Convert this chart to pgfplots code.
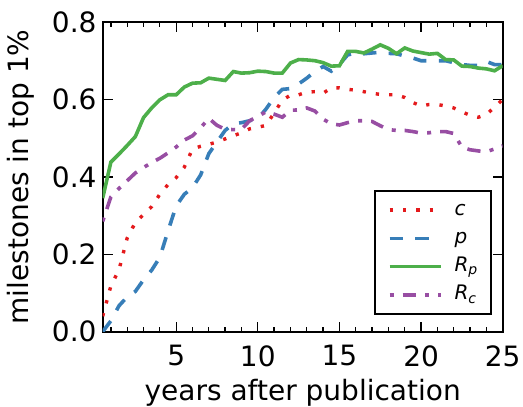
\documentclass[border=0pt]{standalone}
\usepackage{pgfplots}
\pgfplotsset{compat=1.18}
\usepackage{pgfplotstable}
\usepackage{fontspec}
\setmainfont{DejaVu Sans}
\definecolor{cred}{HTML}{E41A1C}
\definecolor{cblue}{HTML}{377EB8}
\definecolor{cgreen}{HTML}{4DAF4A}
\definecolor{cpurple}{HTML}{984EA3}
\pgfplotstableread{
x    c      p      Rp     Rc
0.5  0.040  0.000  0.345  0.285
1.0  0.118  0.028  0.438  0.348
1.5  0.160  0.067  0.459  0.370
2.0  0.242  0.090  0.481  0.390
2.5  0.282  0.104  0.504  0.410
3.0  0.303  0.134  0.553  0.424
3.5  0.323  0.159  0.578  0.437
4.0  0.355  0.192  0.599  0.448
4.5  0.380  0.260  0.612  0.462
5.0  0.398  0.325  0.612  0.477
5.5  0.425  0.355  0.632  0.495
6.0  0.472  0.372  0.642  0.506
6.5  0.479  0.405  0.643  0.527
7.0  0.484  0.460  0.655  0.551
7.5  0.490  0.490  0.652  0.533
8.0  0.498  0.520  0.649  0.523
8.5  0.506  0.537  0.672  0.522
9.0  0.514  0.540  0.668  0.523
9.5  0.524  0.545  0.669  0.545
10.0 0.528  0.550  0.673  0.556
10.5 0.533  0.575  0.672  0.568
11.0 0.565  0.605  0.668  0.562
11.5 0.598  0.626  0.668  0.554
12.0 0.611  0.628  0.694  0.572
12.5 0.612  0.640  0.703  0.573
13.0 0.619  0.655  0.702  0.578
13.5 0.620  0.672  0.700  0.570
14.0 0.616  0.685  0.695  0.549
14.5 0.630  0.673  0.686  0.537
15.0 0.630  0.690  0.687  0.534
15.5 0.626  0.715  0.724  0.540
16.0 0.624  0.720  0.724  0.545
16.5 0.620  0.718  0.720  0.545
17.0 0.616  0.720  0.730  0.543
17.5 0.613  0.722  0.741  0.532
18.0 0.612  0.719  0.732  0.522
18.5 0.612  0.718  0.718  0.520
19.0 0.605  0.712  0.733  0.520
19.5 0.592  0.707  0.725  0.517
20.0 0.583  0.700  0.721  0.513
20.5 0.587  0.700  0.717  0.514
21.0 0.587  0.700  0.719  0.517
21.5 0.583  0.700  0.703  0.517
22.0 0.578  0.695  0.702  0.512
22.5 0.568  0.690  0.686  0.477
23.0 0.559  0.688  0.685  0.470
23.5 0.554  0.688  0.681  0.467
24.0 0.561  0.698  0.679  0.465
24.5 0.580  0.690  0.674  0.472
25.0 0.600  0.690  0.687  0.480
}\datatable
\begin{document}
\begin{tikzpicture}
\begin{axis}[
  name=ax,
  scale only axis,
  width=400bp, height=309.7bp,
  xmin=0.5, xmax=25, ymin=0, ymax=0.8,
  xtick={5,10,15,20,25}, xticklabels={5,10,15,20,25},
  minor xtick={1,2,...,25},
  ytick={0,0.2,0.4,0.6,0.8}, yticklabels={0.0,0.2,0.4,0.6,0.8},
  tick align=inside,
  major tick length=10bp, minor tick length=5bp,
  every tick/.style={black, line width=1.3bp},
  axis line style={line width=2bp},
  /pgf/number format/assume math mode=true,
  ticklabel style={font=\fontsize{28bp}{34bp}\selectfont, inner sep=0pt},
  xticklabel style={anchor=north, yshift=-13.5bp},
  yticklabel style={anchor=east, xshift=-6bp},
  xlabel={years after publication},
  ylabel={milestones in top 1\%},
  label style={font=\fontsize{28bp}{34bp}\selectfont, inner sep=0pt},
  xlabel style={at={(axis description cs:0.5,-0.221)}, anchor=base},
  ylabel style={at={(axis description cs:-0.186,0.5)}, anchor=base, rotate=0},
  legend style={at={(axis description cs:0.678,0.4575)}, anchor=north west,
    draw=black, line width=2bp, inner xsep=13bp, inner ysep=9bp,
    row sep=8.3bp, column sep=12bp,
    font=\fontsize{20bp}{24bp}\selectfont,
    nodes={inner sep=0pt, text height=15bp, text depth=5bp}},
  legend cell align=left,
  legend image code/.code={\draw[#1] (0bp,0bp) -- (51bp,0bp);},
]
\addplot[cred, line width=3.4bp, dash pattern=on 3.3bp off 10bp] table[x=x, y=c] {\datatable};
\addlegendentry{\textit{c}}
\addplot[cblue, line width=3.6bp, dash pattern=on 13.3bp off 12.3bp] table[x=x, y=p] {\datatable};
\addlegendentry{\textit{p}}
\addplot[cgreen, line width=3.6bp] table[x=x, y=Rp] {\datatable};
\addlegendentry{\textit{R}\textsubscript{\textit{p}}}
\addplot[cpurple, line width=3.6bp, dash pattern=on 4bp off 9bp on 13.3bp off 9.3bp] table[x=x, y=Rc] {\datatable};
\addlegendentry{\textit{R}\textsubscript{\textit{c}}}
\end{axis}
\pgfresetboundingbox
\path (ax.south west) ++(-102.7bp,-75.3bp) rectangle ++(523bp,407bp);
\end{tikzpicture}
\end{document}
